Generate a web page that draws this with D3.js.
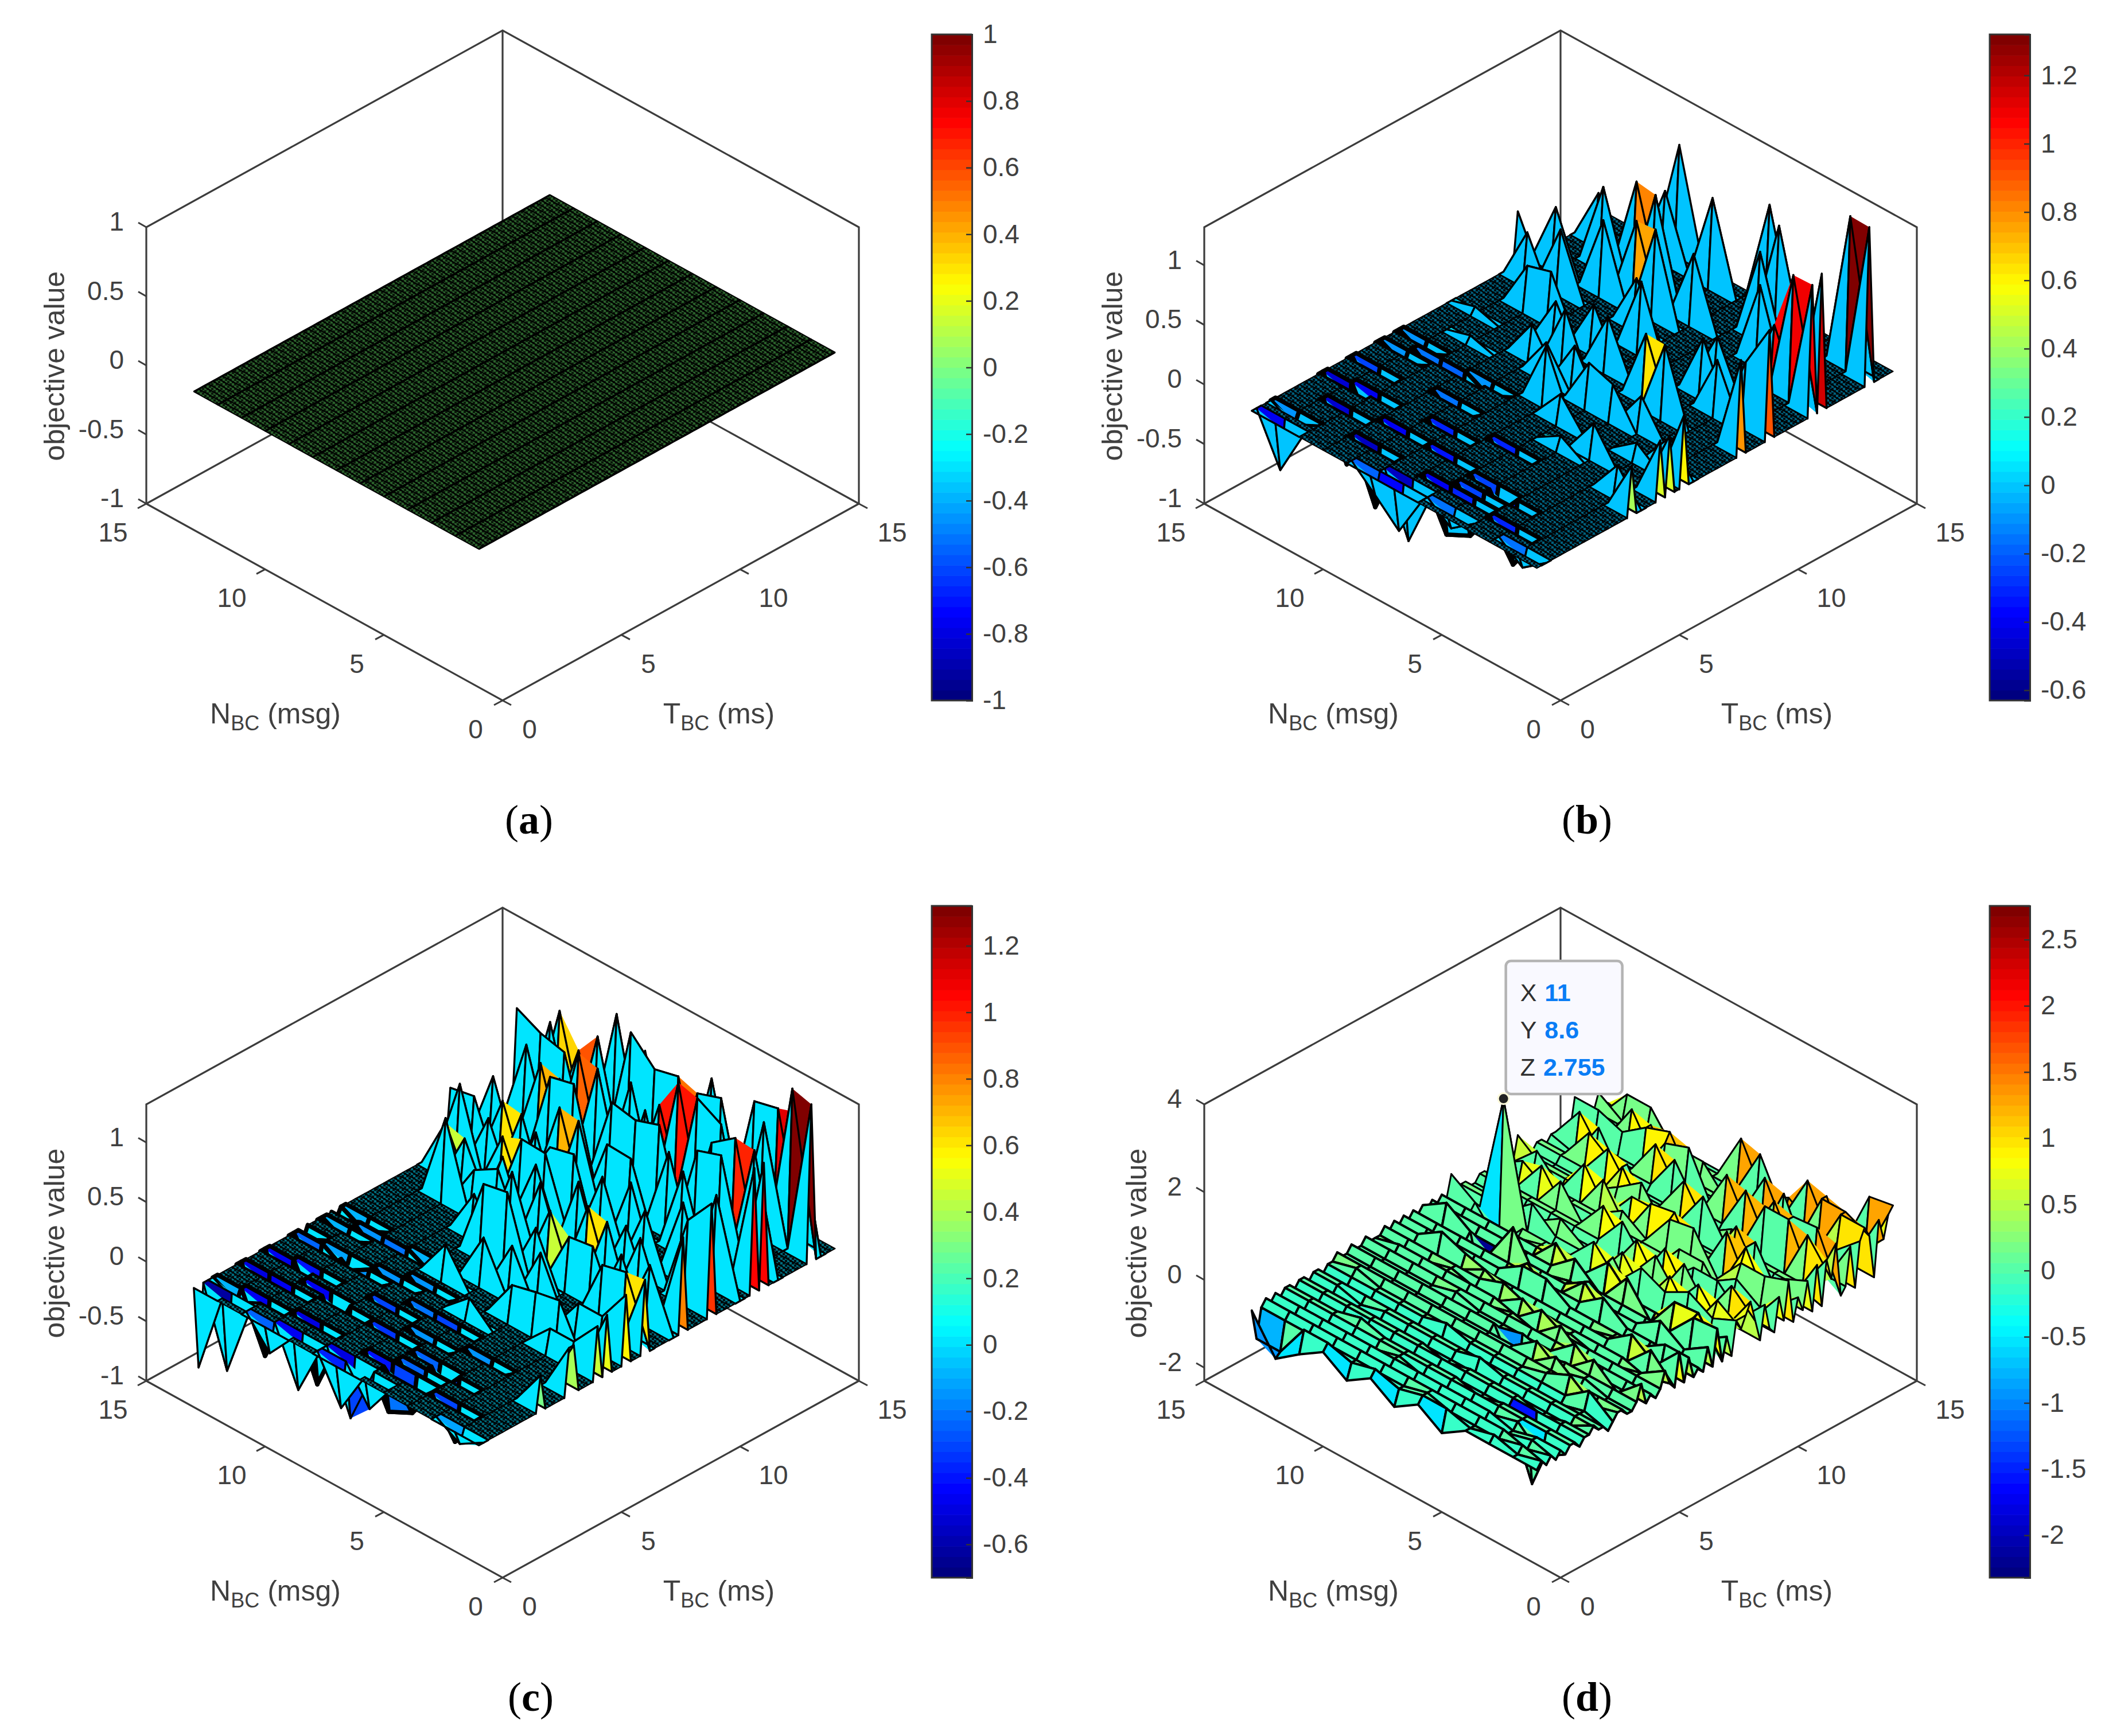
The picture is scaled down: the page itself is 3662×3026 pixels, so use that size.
<!DOCTYPE html>
<html>
<head>
<meta charset="utf-8">
<script src="https://cdn.jsdelivr.net/npm/d3@7"></script>
<style>
  html, body { margin: 0; padding: 0; background: #fff; }
  text { font-family: "Liberation Sans", Arial, sans-serif; fill: #404040; }
  .caption { font-family: "Liberation Serif", serif; fill: #000; font-size: 72px; text-anchor: middle; }
</style>
</head>
<body>
<svg id="fig" width="3662" height="3026" xmlns="http://www.w3.org/2000/svg"></svg>
<script>
// grid of the surfaces
const nValues = d3.range(1, 14);
const tValues = d3.range(0, 76).map(i => i * 0.2);
const axisTicks = [0, 5, 10, 15];

// [N, T, z], every other node sits at 0
const nodesB = [
  [13,11.2,.44],[12,10.6,.44],[12,11.8,.52],[11,11,.53],[12,13.6,.44],[11,12.8,.69],
  [9,13,.82],[10,13.2,.8],[10,15,.91],[10,14.4,.59],[11,9.6,.38],[10,9.6,.44],[9,8.8,.39],
  [10,11.8,.63],[9,12.2,.69],[8,9.4,.41],[7,9,.46],[8,11.2,.43],[9,7.8,.31],[8,7.4,.31],
  [7,7.6,.37],[6,7.2,.38],[6,6,.25],[4,8.4,.62],[5,8.6,.58],[8,14.4,.75],[6,14.8,.87],
  [5,14.2,.87],[5,13.4,.74],[1,11.6,1.1],[2,11.8,1.05],[1,12,1.15],[1,14,1.32],[2,14.2,1.28],
  [3,12,.5],[4,12.4,.68],[4,10,.5],[7,12.6,.59],[8,12,.75],[3,9.6,.47],[2,9.8,.54],
  [1,8.6,.8],[1,9.8,.92],[1,4,.42],[1,5.2,.5],[1,5.6,.5],
  [1,6.2,.6],[2,6.6,.26],[2,4.4,.27],[7,10.4,.6],[4,10.6,.45],[4,5.4,.29],
  [5,5,.12],[7,6.4,.5],[8,8.2,.5],[5,7.2,.31],[4,7.4,.3],[3,6.2,.15],[11,7.2,.06],[12,8.4,.06]
];
const dipsB = [
  [12,.2,-.41],[8,.2,-.18],[7,.2,-.37],[5,.4,-.15],[2,.4,-.15],[12,3,-.45],[11,3.2,-.4],
  [11,2,-.45],[12,4.2,-.25],[9,2.4,-.4],[9,1.2,-.5],[7,.6,-.5],[8,3.4,-.3],[7,2.4,-.35],
  [6,1.2,-.4],[5,1.6,-.25],[5,1.2,-.3],[5,2.2,-.25],[4,2,-.3],[3,1,-.3],[6,4,-.3],
  [10,5.8,-.2],[12,6.2,-.1],[12,5.4,-.1],[11,5.8,-.15],[9,6,-.1],[9,4.6,-.15],[12,.8,-.1]
];
const nodesC = [
  [12,14.4,.85],[12,14,.8],[10,14.8,1],[10,14,.9],[9,14.4,1],[9,15,.78],[8,14.4,.8],
  [12,13.6,.75],[13,13.6,.85],[9,12,.83],[10,12,.78],[5,14.2,.91],[6,14.2,.84],
  [4,13.2,.91],[5,13.2,1.02],[3,12.2,.87],[4,12.2,.8],[8,9.8,.6],[9,9.8,.61],[7,10,.68],
  [8,10,.63],[6,11.4,.6],[7,11.4,.61],[7,7.2,.67],[8,7.2,.63],[4,5.4,.36],[5,5.4,.31],
  [3,5.4,.4],[2,6.2,.29],[3,6.2,.29],[2,5,.21],[3,5,.21],[9,13,.85],[10,13.2,.85],
  [10,12.4,.72],[11,12.6,.72],[10,10.8,.6],[11,11,.58],[11,9.4,.44],[12,9.6,.44],
  [4,8.4,.62],[5,8.6,.62],[6,13.4,1.02],[2,12.6,.98],[3,12.8,.95],[1,14,1.32],[2,14.2,1.32],
  [6,14.8,.9],[3,14,.95],[3,14.6,1],[2,14.4,1.1],[13,10.8,.49],[12,10.2,.7],[12,10.8,.53],
  [12,11.6,.61],[11,8.6,.7],[12,13,.72],[8,11.2,.72],[9,11.4,.7],[7,12.6,.68],[9,10.4,.6],
  [9,8.8,.47],[8,9.4,.55],[6,9.2,.65],[6,8,.54],[6,7.4,.46],[4,10,.54],[4,11.6,.69],
  [3,10.6,.65],[2,11,.78],[2,8.2,.5],[1,6.2,.58],[1,3.8,.4],[1,2.6,.3],[6,4.6,.18],
  [8,5.6,.3],[9,7.8,.37],[1,8.6,.8],[1,9.8,.95],[1,11.6,1.05],[1,12,1.05],[1,7,.62],
  [1,5.4,.5],[1,5,.45],[1,4,.4],[7,13.6,.7],[8,12.6,.72],[5,12,.7],[6,12.6,.75],
  [3,8.8,.55],[4,9.2,.5],[2,9.8,.7],[7,8.6,.6],[5,7.8,.45],[5,10.4,.62],[6,10.2,.58],
  [3,7.2,.5],[4,7.8,.48],[5,6.6,.45],[6,6.4,.42],[7,6.2,.4],[8,8.4,.6],[9,9,.55],
  [10,10,.5],[11,10.4,.5],[10,8.8,.35],[2,7.2,.55],[3,8,.5],[11,13.6,.7],[11,14.2,.65],
  [7,14.4,.85],[4,14.6,.95],[8,13.4,.8],[4,12.8,.8],[7,13,.72]
];
const dipsC = [
  [13,.2,-.69],[12,.4,-.63],[11,1,-.46],[10,.2,-.24],[9,.4,-.46],[7,.2,-.37],[6,.4,-.29],
  [5,1,-.2],[2,.2,-.12],[12,3,-.45],[11,3.2,-.4],[11,2,-.45],[12,2,-.5],[12,4.2,-.25],
  [9,2.4,-.4],[10,2.6,-.45],[9,1.2,-.5],[7,.6,-.5],[8,3.4,-.3],[7,2.4,-.35],[6,1.2,-.4],
  [5,1.6,-.25],[5,1.2,-.3],[5,2.2,-.25],[4,2,-.3],[3,1,-.3],[6,4,-.3],[10,5.8,-.2],
  [12,6.2,-.1],[12,5.4,-.1],[11,5.8,-.15],[9,6,-.1],[9,4.6,-.15],[12,.8,-.1],[10,4.2,-.15],
  [8,5,-.15],[7,4,-.2],[6,3,-.15],[4,3.4,-.15],[11,4.4,-.12],[13,6,-.08],[13,4.6,-.1]
];
// panel d is noisy everywhere: one row per N, one digit per T step, groups of 5 are 1 ms
const digitZ = [-.75, -.5, -.15, 0, .15, .5, .75, 1, 1.25, 1.5];
const rowsD = [
  "23232 32332 33433 23443 34534 34543 63534 35363 53656 45364 36473 54637 37563 47374 73868 9",
  "22323 32332 33233 33343 34334 34433 43534 34343 43534 43344 33443 34533 44334 43354 33443 4",
  "23232 23332 32233 23343 44334 34343 43434 35343 43434 44344 33543 34433 44344 43344 34443 3",
  "22232 32332 33233 23443 34334 34343 44434 34343 43534 43344 33443 35433 44334 53344 33443 3",
  "13232 32322 33233 23343 33334 34443 43434 34343 43434 43444 33443 34433 45334 43344 33453 3",
  "23332 32332 33243 23343 34434 34343 43434 35343 43434 43344 34443 34433 44334 43344 33443 3",
  "12232 32332 32233 23343 34334 43343 43434 34443 43534 43344 33443 34433 44434 43344 33443 3",
  "23232 33332 33233 24343 34334 34343 43534 34343 43434 43344 33453 34433 44334 44344 33443 3",
  "12232 32332 33233 23343 34344 34343 43434 34343 44434 53344 33443 34533 44334 43344 34443 3",
  "23232 32342 33233 23343 34334 34443 43434 34343 43434 43344 33443 34433 45334 43344 33443 3",
  "13232 32332 33223 23343 34334 34343 53434 34343 43134 43344 33443 34433 44334 43354 33443 3",
  "02232 32332 33233 23443 34334 34343 43434 35343 43434 43344 33543 34433 44334 43344 33443 3",
  "33232 32332 33233 23343 34334 33343 43434 34343 43534 43344 33443 34433 44344 43344 33453 4"
];
const nodesD = [
  [11,8.6,2.755],[9,7,.9],[10,7.2,-2.2],[6,4.2,-.9],[3,1.8,-1.6],[2,1.2,-.5],
  [13,0,-.1],[12,0,-.9],[13,.2,-.8],[12,.2,-.8],[1,15,1.4],[2,15,1.3],
  [11,12.6,.9],[12,12.8,.9],[10,12,.9],[11,12.2,.9],[10,13.8,.9],[11,14,.9],[9,13.4,.9],[10,13.6,.9],
  [8,13.4,1.1],[9,13.6,1.1],[8,12.8,1],[9,13,1],[9,11.8,.9],[8,11.4,.9],[9,11.6,.9],[9,10.8,.85],
  [10,11,.85],[10,10,.75],[11,10.2,.75],[6,12,1],[7,12.2,1],[6,10.6,.9],[7,10.8,.9],[5,10.6,1],
  [6,10.8,1],[7,9.6,.85],[8,9.8,.85],[5,12.8,1.2],[6,13,1.2],[6,14.4,1.25],[7,14.6,1.25],
  [4,13.4,1.25],[5,13.6,1.25],[4,12.6,1.2],[3,12.8,1.2],[4,13,1.2],[3,14.2,1.25],[4,14.4,1.25],
  [2,13.8,1.25],[3,14,1.25],[2,12.4,1.2],[3,12.6,1.2],[1,12.6,1.25],[2,12.8,1.25],[1,13.8,1.25],
  [2,14,1.25],[3,10.8,1.1],[4,11,1.1],[3,11.2,1.1],[4,11.4,1.1],[4,9.2,.9],[5,9.4,.9],[5,9,.85],
  [6,9.2,.85],[5,8.4,.75],[6,8.6,.75],[2,7.6,.75],[3,7.8,.75],[1,7.6,.8],[2,7.8,.8],[1,9,1],
  [2,9.2,1],[2,8.6,.85],[3,8.8,.85],[3,8.4,.8],[4,8.6,.8],[2,5.8,.55],[3,6,.55],[5,6.8,.55],
  [6,7,.55],[7,7.6,.6],[8,7.8,.6],[12,11,.55],[13,11.2,.55],[5,7.8,.7],[6,8,.7],[6,8.2,.75],
  [7,8.4,.75],[7,6.4,.5],[8,6.6,.5],[3,4.4,.45],[4,4.6,.45],[5,5,.45],[6,5.2,.45],[4,3.8,.4],
  [5,4,.4],[2,3.2,.4],[3,3.4,.4],[7,5.4,.35],[8,5.6,.35],[9,5.8,.3],[10,6,.3],[11,14.8,.7],
  [12,14.8,.7],[12,13.6,.7],[13,13.6,.7],[7,11,.7],[8,11,.7],[4,10,.7],[5,10,.7],[8,14,.6],
  [9,14,.6],[3,9.6,.7],[4,9.6,.7],[2,10.6,.8],[3,10.6,.8],[10,8.8,.6]
];
const tipD = { x: 11, y: 8.6, z: 2.755 };

const zTicksA = [-1, -0.5, 0, 0.5, 1];
const zTicksD = [-2, 0, 2, 4];
const barTicksA = [-1, -0.8, -0.6, -0.4, -0.2, 0, 0.2, 0.4, 0.6, 0.8, 1];
const barTicksB = [-0.6, -0.4, -0.2, 0, 0.2, 0.4, 0.6, 0.8, 1, 1.2];
const barTicksD = [-2, -1.5, -1, -0.5, 0, 0.5, 1, 1.5, 2, 2.5];

const svg = d3.select("#fig");
svg.append("rect").attr("width", 3662).attr("height", 3026).attr("fill", "#fff");
const defs = svg.append("defs");

// matlab jet with 64 flat steps
const jetRamp = d3.scaleLinear()
  .domain([0, 0.125, 0.375, 0.625, 0.875, 1])
  .range(["#000080", "#0000ff", "#00ffff", "#ffff00", "#ff0000", "#800000"]);
const jet64 = d3.range(64).map(i => jetRamp(i / 63));

function surfaceGrid(panel) {
  const grid = nValues.map(() => tValues.map(() => 0));
  if (panel.rows) {
    panel.rows.forEach((row, i) => {
      row.replace(/ /g, "").split("").forEach((c, j) => { grid[i][j] = digitZ[+c]; });
    });
  }
  panel.nodes.forEach(([n, t, z]) => { grid[n - 1][Math.round(t / 0.2)] = z; });
  return grid;
}

// same winding for both halves, a folded cell would punch a hole otherwise
function triangle(p, q, r) {
  const area = (q[0] - p[0]) * (r[1] - p[1]) - (r[0] - p[0]) * (q[1] - p[1]);
  const pts = area < 0 ? [p, r, q] : [p, q, r];
  return d3.line()(pts) + "Z";
}

function drawPanel(panel) {
  const g = svg.append("g");
  const cx = panel.cx, by = panel.by;
  const halfW = 621, drop = 343, high = 482;

  const nx = d3.scaleLinear().domain([0, 15]).range([0, halfW]);
  const ny = d3.scaleLinear().domain([0, 15]).range([0, drop]);
  const zy = d3.scaleLinear().domain(panel.zlim).range([0, high]);
  const colorOf = d3.scaleQuantize().domain(panel.clim).range(jet64);

  const px = (n, t) => cx + nx(t) - nx(n);
  const py = (n, t, z) => by - ny(t) - ny(n) - zy(z);
  const zMin = panel.zlim[0], zMax = panel.zlim[1];

  // box
  const line = d3.line();
  const edges = [
    [[15, 0, zMin], [0, 0, zMin], [0, 15, zMin]],
    [[15, 0, zMin], [15, 15, zMin], [0, 15, zMin]],
    [[15, 0, zMin], [15, 0, zMax], [15, 15, zMax], [0, 15, zMax], [0, 15, zMin]],
    [[15, 15, zMin], [15, 15, zMax]]
  ];
  g.selectAll("path.edge").data(edges).join("path")
    .attr("class", "edge")
    .attr("d", d => line(d.map(p => [px(p[0], p[1]), py(p[0], p[1], p[2])])))
    .attr("fill", "none").attr("stroke", "#3c3c3c").attr("stroke-width", 3.2);

  // ticks on the two floor axes and on z
  axisTicks.forEach(v => {
    const n0 = [px(v, 0), py(v, 0, zMin)];
    const t0 = [px(0, v), py(0, v, zMin)];
    g.append("line").attr("x1", n0[0]).attr("y1", n0[1]).attr("x2", n0[0] - 15).attr("y2", n0[1] + 8)
      .attr("stroke", "#3c3c3c").attr("stroke-width", 3);
    g.append("line").attr("x1", t0[0]).attr("y1", t0[1]).attr("x2", t0[0] + 15).attr("y2", t0[1] + 8)
      .attr("stroke", "#3c3c3c").attr("stroke-width", 3);
    const dx = 47 + 11 * (String(v).length - 1);
    g.append("text").attr("x", n0[0] - dx).attr("y", n0[1] + 50).attr("dy", ".35em")
      .attr("text-anchor", "middle").attr("font-size", 46).text(v);
    g.append("text").attr("x", t0[0] + dx).attr("y", t0[1] + 50).attr("dy", ".35em")
      .attr("text-anchor", "middle").attr("font-size", 46).text(v);
  });
  panel.zTicks.forEach(v => {
    const x0 = px(15, 0), y0 = py(15, 0, v);
    g.append("line").attr("x1", x0).attr("y1", y0).attr("x2", x0 - 14).attr("y2", y0 - 8)
      .attr("stroke", "#3c3c3c").attr("stroke-width", 3);
    g.append("text").attr("x", x0 - 39).attr("y", y0 - 10).attr("dy", ".35em")
      .attr("text-anchor", "end").attr("font-size", 46).text(v);
  });

  // labels
  g.append("text").attr("transform", `translate(${cx + panel.ylabelDx},${by - 583}) rotate(-90)`)
    .attr("text-anchor", "middle").attr("font-size", 50).text("objective value");
  [["N", " (msg)", -396], ["T", " (ms)", 377]].forEach(([a, b, dx]) => {
    const lab = g.append("text").attr("x", cx + dx).attr("y", by + 40)
      .attr("text-anchor", "middle").attr("font-size", 50);
    lab.append("tspan").text(a);
    lab.append("tspan").attr("dy", 12).attr("font-size", 36).text("BC");
    lab.append("tspan").attr("dy", -12).text(b);
  });

  // dither look of the very dense flat mesh
  const dotId = "dots-" + panel.name;
  const dot = defs.append("pattern").attr("id", dotId).attr("patternUnits", "userSpaceOnUse")
    .attr("width", 8).attr("height", 8);
  dot.append("rect").attr("width", 8).attr("height", 8).attr("fill", panel.dotBack);
  dot.append("rect").attr("width", 4).attr("height", 4).attr("fill", panel.dotFront);
  dot.append("rect").attr("x", 4).attr("y", 4).attr("width", 4).attr("height", 4).attr("fill", panel.dotFront);

  // surface, far cells first; a cell is filled as two triangles split on its first diagonal
  const grid = surfaceGrid(panel);
  const cells = [];
  for (let i = nValues.length - 2; i >= 0; i--) {
    for (let j = tValues.length - 2; j >= 0; j--) {
      const corners = [[i, j], [i + 1, j], [i + 1, j + 1], [i, j + 1]];
      cells.push({ i, j, corners });
    }
  }
  const isFlat = d => d.corners.every(([a, b]) => grid[a][b] === grid[d.i][d.j]);
  const isPit = d => d.corners.every(([a, b]) => grid[a][b] <= 0);
  const screen = d => d.corners.map(([a, b]) => [
    px(nValues[a], tValues[b]), py(nValues[a], tValues[b], grid[a][b])
  ]);
  const layers = cells.flatMap(d => [{ cell: d, kind: "fill" }, { cell: d, kind: "edge" }]);
  g.append("g").selectAll("path").data(layers).join("path")
    .attr("d", ({ cell, kind }) => {
      const [a, b, c, e] = screen(cell);
      return kind === "fill" ? triangle(a, b, c) + triangle(a, c, e) : line([a, b, c, e]) + "Z";
    })
    .attr("fill", ({ cell, kind }) => {
      if (kind === "edge") return "none";
      return (panel.dotted && isFlat(cell)) ? `url(#${dotId})` : colorOf(grid[cell.i][cell.j]);
    })
    .attr("stroke", ({ kind }) => kind === "edge" ? "#000" : "none")
    .attr("stroke-linejoin", "round")
    .attr("stroke-width", ({ cell }) => {
      if (!panel.dotted) return cell.j < 40 ? 4 : 3;
      if (isFlat(cell)) return 2;
      return (isPit(cell) && cell.j > 3) ? 7.5 : 3.4;
    });

  // the flat sheet of panel a shows a darker line on each N
  if (panel.rowLines) {
    g.append("g").selectAll("path").data(nValues).join("path")
      .attr("d", n => line(tValues.map(t => [px(n, t), py(n, t, 0)])))
      .attr("fill", "none").attr("stroke", "#000").attr("stroke-width", 3.4);
  }

  // colour bar
  const bar = svg.append("g").attr("transform", `translate(${panel.barX},0)`);
  const barScale = d3.scaleLinear().domain(panel.clim).range([by, panel.barTop]);
  const stepH = (by - panel.barTop) / 64;
  bar.selectAll("rect").data(jet64).join("rect")
    .attr("x", 0).attr("width", 70)
    .attr("y", (d, i) => by - (i + 1) * stepH)
    .attr("height", stepH + 0.6)
    .attr("fill", d => d);
  const barAxis = d3.axisRight(barScale).tickValues(panel.barTicks)
    .tickSize(-10).tickPadding(19).tickFormat(d => d);
  const ax = bar.append("g").attr("transform", "translate(70,0)").call(barAxis);
  ax.selectAll("text").attr("font-size", 46).attr("fill", "#404040")
    .style("font-family", '"Liberation Sans", Arial, sans-serif');
  ax.selectAll("line").attr("stroke", "#333").attr("stroke-width", 2.5);
  ax.select(".domain").attr("stroke", "#333").attr("stroke-width", 3);
  bar.append("path").attr("d", `M70,${panel.barTop}H0V${by}H70`)
    .attr("fill", "none").attr("stroke", "#333").attr("stroke-width", 3);

  g.append("text").attr("class", "caption").attr("x", panel.capX).attr("y", by + 232)
    .html(`(<tspan font-weight="bold">${panel.name}</tspan>)`);

  if (panel.tip) {
    const tx = px(panel.tip.x, panel.tip.y), ty = py(panel.tip.x, panel.tip.y, panel.tip.z);
    g.append("rect").attr("x", tx + 4).attr("y", ty - 240).attr("width", 203).attr("height", 232)
      .attr("rx", 9).attr("fill", "#f9f9ff").attr("stroke", "#b4b4b4").attr("stroke-width", 4.5);
    [["X", panel.tip.x], ["Y", panel.tip.y], ["Z", panel.tip.z]].forEach(([k, v], i) => {
      const row = g.append("text").attr("x", tx + 29).attr("y", ty - 170 + i * 65).attr("font-size", 43);
      row.append("tspan").attr("fill", "#303030").text(k);
      row.append("tspan").attr("dx", 14).attr("fill", "#0a7df5").attr("font-weight", "bold").text(v);
    });
    g.append("circle").attr("cx", tx).attr("cy", ty).attr("r", 11).attr("fill", "#fbf8d8");
    g.append("circle").attr("cx", tx).attr("cy", ty).attr("r", 8).attr("fill", "#222");
  }
}

const panels = [
  { name: "a", cx: 876, by: 1221, barX: 1624, barTop: 60, capX: 922, zlim: [-1, 1], clim: [-1, 1],
    zTicks: zTicksA, barTicks: barTicksA, ylabelDx: -764, nodes: [], dotted: true, rowLines: true,
    dotBack: "#0a170a", dotFront: "#2a5f2b" },
  { name: "b", cx: 2720, by: 1221, barX: 3468, barTop: 60, capX: 2766, zlim: [-1, 1.32], clim: [-0.63, 1.32],
    zTicks: zTicksA, barTicks: barTicksB, ylabelDx: -764, nodes: nodesB.concat(dipsB), dotted: true,
    dotBack: "#000c12", dotFront: "#00607c" },
  { name: "c", cx: 876, by: 2750, barX: 1624, barTop: 1579, capX: 925, zlim: [-1, 1.32], clim: [-0.7, 1.32],
    zTicks: zTicksA, barTicks: barTicksB, ylabelDx: -764, nodes: nodesC.concat(dipsC), dotted: true,
    dotBack: "#000e12", dotFront: "#006c7c" },
  { name: "d", cx: 2720, by: 2750, barX: 3468, barTop: 1579, capX: 2766, zlim: [-2.3, 4], clim: [-2.32, 2.755],
    zTicks: zTicksD, barTicks: barTicksD, ylabelDx: -722, nodes: nodesD, rows: rowsD, dotted: false,
    dotBack: "#000", dotFront: "#000", tip: tipD }
];
panels.forEach(drawPanel);
</script>
</body>
</html>
